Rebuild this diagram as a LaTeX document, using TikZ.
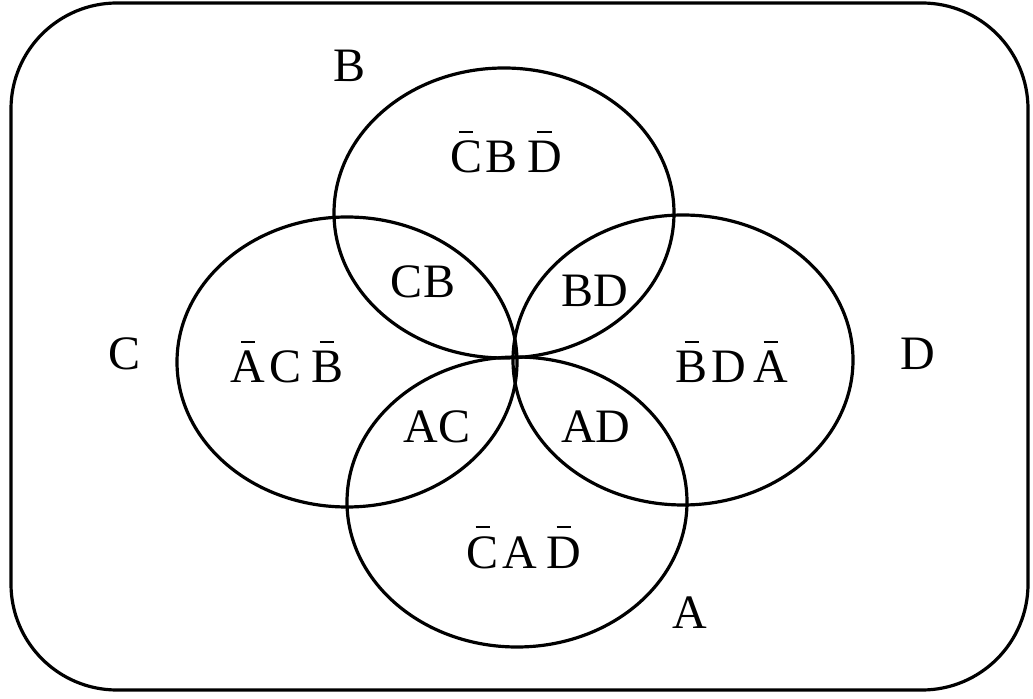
\documentclass[tikz,border=0pt]{standalone}
\usepackage{fontspec}
\setmainfont{Liberation Serif}
\usetikzlibrary{shapes.geometric}
% letter with a short overbar (complement)
\newcommand\nbar[1]{\ooalign{#1\cr\hidewidth\rule[0.84em]{0.3em}{0.045em}\hidewidth\cr}}
\begin{document}
\begin{tikzpicture}[x=0.5pt,y=-0.5pt,
  setshape/.style={draw,ellipse,line width=1.6pt,inner sep=0pt,
    minimum width=170pt,minimum height=145pt},
  lbl/.style={anchor=base,inner sep=0pt,font=\fontsize{24pt}{28pt}\selectfont}]
\useasboundingbox (0,0) rectangle (1033,699);
% universe
\draw[line width=1.6pt,rounded corners=53pt] (11,3) rectangle (1028,690);
% the four sets
\node[setshape] (setB) at (504,213) {};
\node[setshape] (setC) at (347,362) {};
\node[setshape] (setD) at (683,360) {};
\node[setshape] (setA) at (517,502) {};
% set names
\node[lbl] (nameB) at (350,82) {B};
\node[lbl] (nameC) at (125,370) {C};
\node[lbl] (nameD) at (918,370) {D};
\node[lbl] (nameA) at (690,628) {A};
% region labels
\node[lbl] (rB) at (506,173) {\nbar{C}\kern0.07em B\kern0.2em\nbar{D}};
\node[lbl] (rC) at (287,383) {\nbar{A}\kern0.08em C\kern0.2em\nbar{B}};
\node[lbl] (rD) at (732,383) {\nbar{B}\kern0.07em D\kern0.16em\nbar{A}};
\node[lbl] (rA) at (524,568) {\nbar{C}\kern0.07em A\kern0.2em\nbar{D}};
\node[lbl] (rCB) at (423,298) {CB};
\node[lbl] (rBD) at (595,307) {BD};
\node[lbl] (rAC) at (437,443) {AC};
\node[lbl] (rAD) at (596,443) {AD};
\end{tikzpicture}
\end{document}
